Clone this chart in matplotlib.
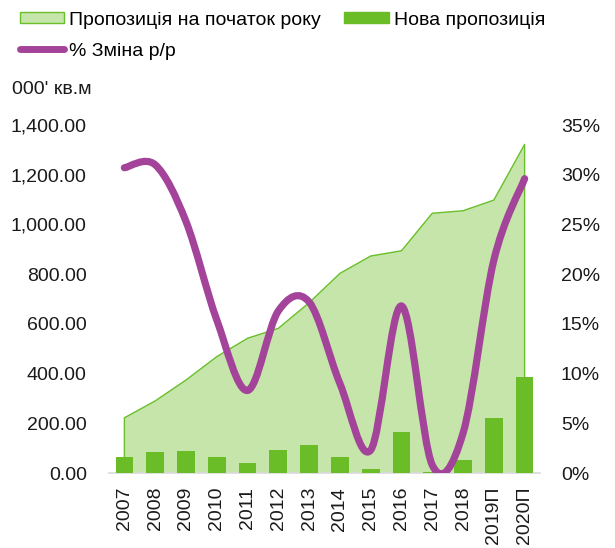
import matplotlib
matplotlib.use("Agg")
import matplotlib.pyplot as plt
from matplotlib.path import Path
from matplotlib.patches import PathPatch, Patch
from matplotlib.lines import Line2D
from matplotlib.ticker import FuncFormatter
import numpy as np

plt.rcParams['font.family'] = ['Liberation Sans', 'DejaVu Sans']

years = ["2007", "2008", "2009", "2010", "2011", "2012", "2013", "2014",
         "2015", "2016", "2017", "2018", "2019П", "2020П"]
supply_start = [222, 290, 374, 468, 542, 582, 685, 803, 873, 894, 1045, 1055, 1098, 1322]
new_supply = [63, 84, 87, 66, 40, 91, 114, 66, 16, 164, 5, 52, 220, 387]
change_pct = [30.7, 31.0, 25.3, 15.4, 8.3, 16.3, 17.2, 9.0, 2.3, 16.8, 0.8, 4.0, 21.4, 29.6]

c_area = "#c5e5aa"
c_area_edge = "#6abf2a"
c_bar = "#6abd27"
c_line = "#a3449a"

fig = plt.figure(figsize=(6.15, 5.48), dpi=100)
ax = fig.add_axes([109/615, 75/548, 431/615, 348/548])
ax2 = ax.twinx()

x = np.arange(len(years))
ax.fill_between(x, supply_start, 0, facecolor=c_area, edgecolor='none', zorder=1)
ax.plot(np.concatenate([[x[0]], x, [x[-1]]]),
        np.concatenate([[0], supply_start, [0]]),
        color=c_area_edge, lw=1.0, zorder=2)
ax.bar(x, new_supply, width=0.575, color=c_bar, zorder=3)

ax.set_xlim(-0.5, len(years) - 0.5)
ax.set_ylim(0, 1400)
ax.set_yticks(np.arange(0, 1401, 200))
ax.yaxis.set_major_formatter(FuncFormatter(lambda v, p: f"{v:,.2f}"))
ax.set_xticks(x)
ax.set_xticklabels(years, rotation=90)

# smoothed line (Excel-style Bezier through points)
pts = np.column_stack([x, change_pct]).astype(float)
verts = [tuple(pts[0])]
codes = [Path.MOVETO]
n = len(pts)
for i in range(n - 1):
    p0 = pts[i - 1] if i > 0 else pts[i]
    p1 = pts[i]
    p2 = pts[i + 1]
    p3 = pts[i + 2] if i + 2 < n else pts[i + 1]
    c1 = p1 + (p2 - p0) / 6.0
    c2 = p2 - (p3 - p1) / 6.0
    verts += [tuple(c1), tuple(c2), tuple(p2)]
    codes += [Path.CURVE4] * 3
path = Path(verts, codes)
ax2.add_patch(PathPatch(path, facecolor='none', edgecolor=c_line, lw=5.2,
                        capstyle='round', joinstyle='round', zorder=5))
ax2.set_ylim(0, 35)
ax2.set_yticks(np.arange(0, 36, 5))
ax2.yaxis.set_major_formatter(FuncFormatter(lambda v, p: f"{v:.0f}%"))
ax2.set_zorder(ax.get_zorder() + 1)
ax2.patch.set_visible(False)

fs = 14
for a in (ax, ax2):
    for s in a.spines.values():
        s.set_visible(False)
    a.tick_params(length=0, labelsize=fs, colors="#1a1a1a")
ax.spines['bottom'].set_visible(True)
ax.spines['bottom'].set_color("#d9d9d9")
ax.spines['bottom'].set_linewidth(1.2)
ax.tick_params(axis='y', pad=16)
ax.tick_params(axis='x', pad=10)
ax2.tick_params(axis='y', pad=15)

fig.text(12/615, 1 - 90/548, "000' кв.м", fontsize=fs, color="#1a1a1a", va='center', ha='left')

handles = [Patch(facecolor=c_area, edgecolor=c_area_edge, lw=1.0),
           Line2D([0], [0], color=c_line, lw=5, solid_capstyle='round'),
           Patch(facecolor=c_bar, edgecolor=c_bar)]
labels = ["Пропозиція на початок року", "% Зміна р/р", "Нова пропозиція"]
fig.legend(handles, labels, loc='upper left', bbox_to_anchor=(8/615, 1 - 0/548),
           ncol=2, frameon=False, fontsize=fs, handlelength=2.3, handleheight=0.5,
           handletextpad=0.25, columnspacing=1.2, labelspacing=0.72, borderpad=0.1)

fig.savefig("out.png", dpi=100)
